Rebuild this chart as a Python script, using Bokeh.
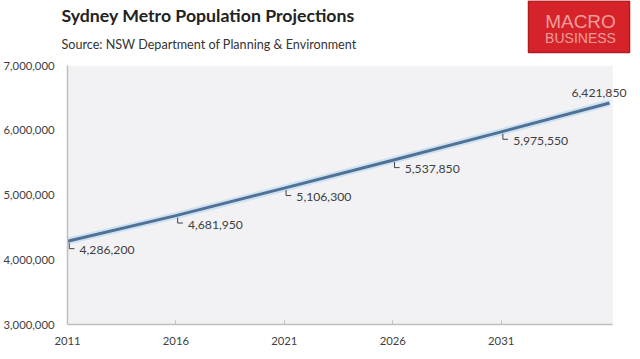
from bokeh.plotting import figure
from bokeh.layouts import column
from bokeh.models import (Range1d, FixedTicker, NumeralTickFormatter,
                          ColumnDataSource, BoxAnnotation)
from bokeh.core.properties import value
from bokeh.embed import file_html
from bokeh.resources import INLINE

years = [2011, 2016, 2021, 2026, 2031, 2036]
population = [4286200, 4681950, 5106300, 5537850, 5975550, 6421850]
labels = ["4,286,200", "4,681,950", "5,106,300", "5,537,850", "5,975,550", "6,421,850"]
x_ticks = [2011, 2016, 2021, 2026, 2031]
y_ticks = [3000000, 4000000, 5000000, 6000000, 7000000]
title = "Sydney Metro Population Projections"
subtitle = "Source: NSW Department of Planning & Environment"

FONT = "Lato"
TXT = "#404040"
W = 631
HH = 56
H = 349

# ---------- header (title, subtitle, logo) ----------
h = figure(width=W, height=HH, output_backend="svg", toolbar_location=None,
           x_range=Range1d(0, W), y_range=Range1d(HH, 0),
           min_border=0, x_axis_type=None, y_axis_type=None)
h.frame_align = False
h.outline_line_color = None
h.grid.visible = False
h.background_fill_color = "white"
h.border_fill_color = "white"
h.text(x=[61], y=[14.5], text=[title], text_font=value(FONT), text_font_size="17.7px",
       text_font_style="bold", text_color="#222222", text_baseline="middle")
h.text(x=[61], y=[44], text=[subtitle], text_font=value(FONT), text_font_size="12.6px",
       text_color="#333333", text_baseline="middle")
h.quad(left=[528], right=[629], top=[0.5], bottom=[52], fill_color="#d6232a",
       line_color="#b01c20", line_width=1.5)
h.text(x=[580], y=[21], text=["MACRO"], text_font=value("Liberation Sans"),
       text_font_size="19px", text_color="#f29c9c", text_align="center",
       text_baseline="middle")
h.text(x=[580], y=[37.5], text=["BUSINESS"], text_font=value("Liberation Sans"),
       text_font_size="14px", text_color="#f29c9c",
       text_align="center", text_baseline="middle")

# ---------- main chart ----------
p = figure(width=W, height=H - HH, output_backend="svg", toolbar_location=None,
           x_range=Range1d(2011, 2036.92), y_range=Range1d(3000000, 7000000),
           min_border_left=56, min_border_right=2, min_border_top=9,
           min_border_bottom=25)
p.frame_align = False
p.background_fill_color = "white"
p.border_fill_color = "white"
p.outline_line_color = None
p.grid.visible = False
p.add_layout(BoxAnnotation(left=2011, right=2036.15, fill_color="#f2f2f4",
                           fill_alpha=1.0, line_color=None, level="underlay"))

p.xaxis.ticker = FixedTicker(ticks=x_ticks)
p.yaxis.ticker = FixedTicker(ticks=y_ticks)
p.yaxis.formatter = NumeralTickFormatter(format="0,0")
p.xaxis.bounds = (2011, 2036.15)
for ax in (p.xaxis[0], p.yaxis[0]):
    ax.axis_line_color = "#bfbfbf"
    ax.axis_line_width = 1.5
    ax.major_label_text_font = FONT
    ax.major_label_text_font_size = "11.3px"
    ax.major_label_text_color = TXT
    ax.minor_tick_line_color = None
p.xaxis.major_tick_in = 4
p.xaxis.major_tick_out = 0
p.xaxis.major_tick_line_color = "#bfbfbf"
p.xaxis.major_label_standoff = 12
p.yaxis.major_tick_line_color = None
p.yaxis.major_label_standoff = 7

src = ColumnDataSource(dict(x=years, y=population, t=labels))
p.line("x", "y", source=src, line_color="#c4dcef", line_width=7, line_alpha=0.8)
p.line("x", "y", source=src, line_color="#4f7196", line_width=3)

xs, ys = [], []
for yr, v in zip(years[:-1], population[:-1]):
    xs.append([yr + 0.08, yr + 0.08, yr + 0.32])
    ys.append([v - 30000, v - 115000, v - 115000])
p.multi_line(xs, ys, line_color="#404040", line_width=1)

lsrc = ColumnDataSource(dict(x=years[:-1], y=population[:-1], t=labels[:-1]))
p.text("x", "y", text="t", source=lsrc, x_offset=12, y_offset=9,
       text_font=value(FONT), text_font_size="12.2px", text_color=TXT,
       text_baseline="middle", text_align="left")
last = ColumnDataSource(dict(x=years[-1:], y=population[-1:], t=labels[-1:]))
p.text("x", "y", text="t", source=last, x_offset=17, y_offset=-10,
       text_font=value(FONT), text_font_size="12.2px", text_color=TXT,
       text_baseline="middle", text_align="right")

layout = column(h, p, spacing=0)
open("out.html", "w").write(file_html(layout, INLINE))
